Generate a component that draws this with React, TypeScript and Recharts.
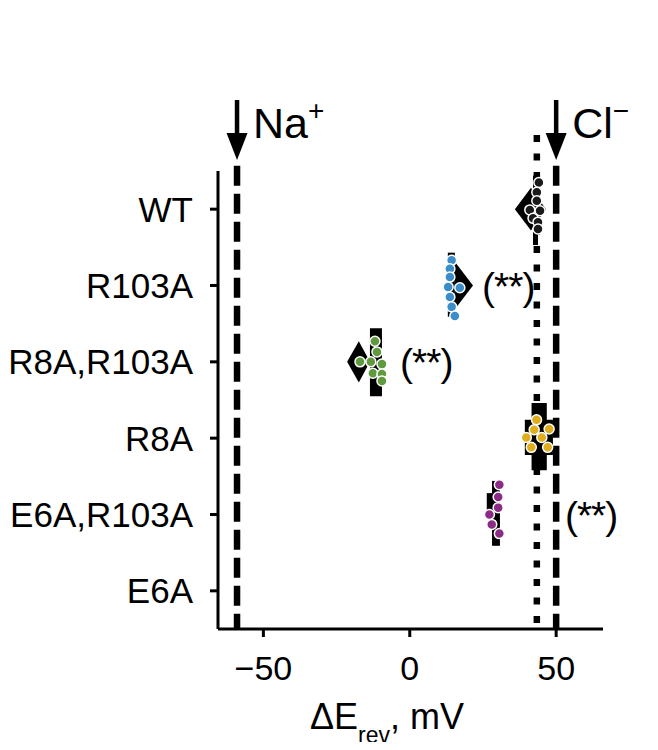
import React from 'react';
import {
  ScatterChart,
  Scatter,
  XAxis,
  YAxis,
  ReferenceLine,
  ReferenceArea,
  ReferenceDot,
} from 'recharts';

// ---------- data ----------
const categories = ['WT', 'R103A', 'R8A,R103A', 'R8A', 'E6A,R103A', 'E6A'];
const xTicks = [-50, 0, 50];

// individual cells: ΔErev (mV) and vertical jitter (in category units)
const wtValues = [44.1, 43.4, 43.4, 41.0, 44.5, 42.1, 43.8, 43.8];
const wtJitter = [-0.35, -0.22, -0.11, 0.01, 0.02, 0.12, 0.17, 0.26];
const r103aValues = [14.3, 13.7, 13.7, 13.1, 17.1, 13.7, 14.3, 15.4];
const r103aJitter = [-0.33, -0.22, -0.11, 0.02, 0.03, 0.15, 0.28, 0.4];
const r8aR103aValues = [-11.9, -11.2, -17.0, -13.3, -9.5, -12.6, -9.5, -9.5];
const r8aR103aJitter = [-0.27, -0.13, 0.0, 0.0, 0.03, 0.15, 0.16, 0.25];
const r8aValues = [43.3, 42.5, 47.6, 39.8, 45.1, 41.5, 47.1];
const r8aJitter = [-0.24, -0.11, -0.12, -0.01, -0.01, 0.12, 0.12];
const e6aR103aValues = [30.6, 30.2, 30.2, 27.2, 28.0, 30.6];
const e6aR103aJitter = [-0.39, -0.23, -0.09, 0.0, 0.13, 0.25];

const pointColors = ['#1a1a1a', '#3a8dc9', '#5f9a3e', '#e0ae1c', '#8c2b86'];

// black distribution bars: group index, x from / to (mV), y from / to (offset)
const barGroup = [0, 1, 2, 3, 3, 4, 4];
const barX1 = [42.1, 13.0, -13.6, 41.6, 39.3, 28.1, 26.3];
const barX2 = [43.8, 15.4, -9.5, 46.8, 48.9, 30.8, 28.1];
const barY1 = [-0.44, -0.43, -0.44, -0.46, -0.24, -0.44, -0.28];
const barY2 = [0.47, 0.41, 0.45, 0.42, 0.22, 0.41, -0.03];

// mean diamonds: group index, left, centre, right (mV), half height
const diamondGroup = [0, 1, 2];
const diamondLeft = [35.9, 15.4, -21.4];
const diamondCentre = [41.4, 15.4, -17.4];
const diamondRight = [46.5, 21.6, -13.6];
const diamondHalf = [0.28, 0.31, 0.27];

// significance marks
const sigGroup = [1, 2, 4];
const sigX = [24.7, -3.3, 53.0];
const sigText = ['(**)', '(**)', '(**)'];

// reversal potentials
const ionX = [-59, 50];
const ionName = ['Na', 'Cl'];
const ionCharge = ['+', '−'];
const wtMean = 43.4;

// ---------- helpers ----------
const FONT = '"Liberation Sans", Arial, Helvetica, sans-serif';

const groupSeries = [
  { values: wtValues, jitter: wtJitter },
  { values: r103aValues, jitter: r103aJitter },
  { values: r8aR103aValues, jitter: r8aR103aJitter },
  { values: r8aValues, jitter: r8aJitter },
  { values: e6aR103aValues, jitter: e6aR103aJitter },
];

const seriesData = groupSeries.map((g, gi) =>
  g.values.map((v, i) => ({ x: v, y: gi + g.jitter[i] }))
);

const fmtX = (v: number) => (v < 0 ? '−' + Math.abs(v) : String(v));

const AxisTitle = (props: any) => {
  const vb = props.viewBox || {};
  const cx = vb.x + vb.width / 2 - 23.5;
  const by = vb.y + 100.3;
  return (
    <text x={cx} y={by} textAnchor="middle" fontFamily={FONT} fontSize={36} fill="#000">
      <tspan>ΔE</tspan>
      <tspan fontSize={23} dy={14}>rev</tspan>
      <tspan dy={-14}>, mV</tspan>
    </text>
  );
};

const makeArrow = (name: string, charge: string) => (p: any) => {
  const cx = p.cx;
  const cy = p.cy;
  const tip = cy - 11;
  const headTop = tip - 27;
  const top = cy - 71;
  return (
    <g>
      <line x1={cx} y1={top} x2={cx} y2={headTop + 2} stroke="#000" strokeWidth={4.5} />
      <polygon
        points={`${cx - 10.5},${headTop} ${cx + 10.5},${headTop} ${cx},${tip}`}
        fill="#000"
      />
      <text x={cx + 16} y={cy - 33} fontFamily={FONT} fontSize={43} fill="#000">
        <tspan>{name}</tspan>
        <tspan fontSize={28} dy={-18}>{charge}</tspan>
      </text>
    </g>
  );
};

const makeSig = (txt: string) => (p: any) => (
  <text
    x={p.cx}
    y={p.cy}
    dy="0.36em"
    fontFamily={FONT}
    fontSize={39}
    letterSpacing={-1}
    fill="#000"
  >
    {txt}
  </text>
);

const makeDiamond = (frac: number) => (p: any) => {
  const { x, y, width, height } = p;
  const mx = x + width * frac;
  return (
    <polygon
      points={`${x},${y + height / 2} ${mx},${y} ${x + width},${y + height / 2} ${mx},${y + height}`}
      fill="#000"
    />
  );
};

const makeDot = (color: string) => (p: any) => (
  <circle cx={p.cx} cy={p.cy} r={5} fill={color} stroke="#fff" strokeWidth={1.5} />
);

export default function App() {
  return (
    <div style={{ width: 642, height: 734, overflow: 'visible' }}>
      <ScatterChart
        width={642}
        height={741}
        margin={{ top: 163, right: 47, bottom: 7, left: 0 }}
      >
        <XAxis
          type="number"
          dataKey="x"
          domain={[-65.5, 66]}
          ticks={xTicks}
          tickFormatter={fmtX}
          height={113}
          tickSize={8}
          tickMargin={19}
          tick={{ fontSize: 34, fill: '#000', fontFamily: FONT }}
          axisLine={{ stroke: '#000', strokeWidth: 3 }}
          tickLine={{ stroke: '#000', strokeWidth: 3 }}
          label={<AxisTitle />}
        />
        <YAxis
          type="number"
          dataKey="y"
          domain={[-0.5, 5.5]}
          reversed
          ticks={[0, 1, 2, 3, 4, 5]}
          interval={0}
          tickFormatter={(v: number) => categories[v]}
          width={210}
          tickSize={8}
          tickMargin={17}
          tick={{ fontSize: 35, fill: '#000', fontFamily: FONT }}
          axisLine={{ stroke: '#000', strokeWidth: 3 }}
          tickLine={{ stroke: '#000', strokeWidth: 3 }}
        />

        {ionX.map((x, i) => (
          <ReferenceLine
            key={'ion' + i}
            segment={[
              { x, y: -0.57 },
              { x, y: 5.5 },
            ]}
            stroke="#000"
            strokeWidth={6.5}
            strokeDasharray="20 8"
            ifOverflow="visible"
          />
        ))}
        <ReferenceLine
          segment={[
            { x: wtMean, y: -0.97 },
            { x: wtMean, y: 5.5 },
          ]}
          stroke="#000"
          strokeWidth={6.5}
          strokeDasharray="7 11.5"
          ifOverflow="visible"
        />

        {barGroup.map((g, i) => (
          <ReferenceArea
            key={'bar' + i}
            x1={barX1[i]}
            x2={barX2[i]}
            y1={g + barY1[i]}
            y2={g + barY2[i]}
            fill="#000"
            fillOpacity={1}
            stroke="none"
            ifOverflow="visible"
          />
        ))}
        {diamondGroup.map((g, i) => (
          <ReferenceArea
            key={'dia' + i}
            x1={diamondLeft[i]}
            x2={diamondRight[i]}
            y1={g - diamondHalf[i]}
            y2={g + diamondHalf[i]}
            ifOverflow="visible"
            shape={makeDiamond(
              (diamondCentre[i] - diamondLeft[i]) / (diamondRight[i] - diamondLeft[i])
            )}
          />
        ))}

        {seriesData.map((d, i) => (
          <Scatter
            key={'s' + i}
            data={d}
            isAnimationActive={false}
            shape={makeDot(pointColors[i])}
          />
        ))}

        {ionX.map((x, i) => (
          <ReferenceDot
            key={'arrow' + i}
            x={x}
            y={-0.5}
            ifOverflow="visible"
            shape={makeArrow(ionName[i], ionCharge[i])}
          />
        ))}
        {sigGroup.map((g, i) => (
          <ReferenceDot
            key={'sig' + i}
            x={sigX[i]}
            y={g}
            ifOverflow="visible"
            shape={makeSig(sigText[i])}
          />
        ))}
      </ScatterChart>
    </div>
  );
}
